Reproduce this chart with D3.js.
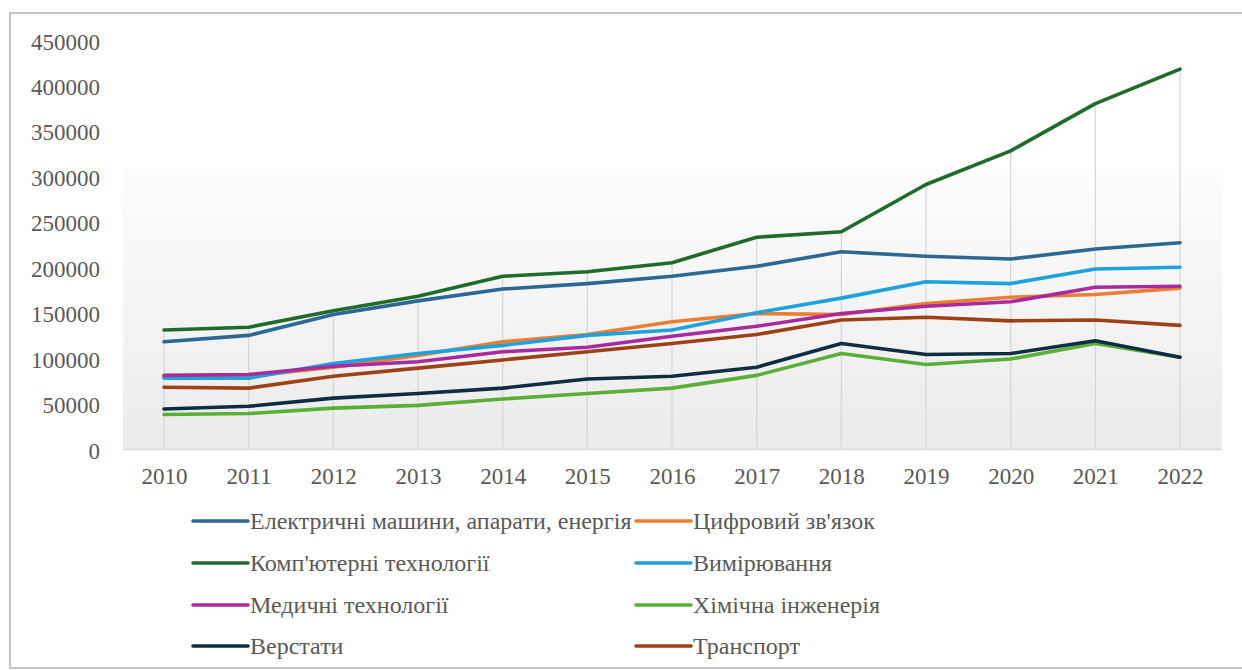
<!DOCTYPE html>
<html>
<head>
<meta charset="utf-8">
<script src="https://cdn.jsdelivr.net/npm/d3@7"></script>
<style>
  html, body { margin: 0; padding: 0; background: #ffffff; }
  svg { display: block; }
  .lbl { font-family: "Times New Roman", Tinos, "Liberation Serif", serif; }
</style>
</head>
<body>
<svg id="chart" width="1242" height="670"></svg>
<script>
// Categories (years)
const years = ["2010","2011","2012","2013","2014","2015","2016","2017","2018","2019","2020","2021","2022"];

// Y axis tick labels
const yTicks = [0, 50000, 100000, 150000, 200000, 250000, 300000, 350000, 400000, 450000];

// Series names
const seriesNames = [
  "Електричні машини, апарати, енергія",
  "Цифровий зв'язок",
  "Комп'ютерні технології",
  "Вимірювання",
  "Медичні технології",
  "Хімічна інженерія",
  "Верстати",
  "Транспорт"
];

// Series values, one array per technology field
const electric    = [118000, 125000, 148000, 163000, 176000, 182000, 190000, 201000, 217000, 212000, 209000, 220000, 227000];
const digital     = [79000, 80000, 90000, 103000, 118000, 126000, 140000, 149000, 148000, 160000, 167000, 170000, 177000];
const computer    = [131000, 134000, 152000, 168000, 190000, 195000, 205000, 233000, 239000, 291000, 328000, 380000, 418000];
const measurement = [78000, 78000, 94000, 105000, 114000, 125000, 131000, 150000, 166000, 184000, 182000, 198000, 200000];
const medical     = [81000, 82000, 91000, 96000, 107000, 112000, 124000, 135000, 149000, 157000, 162000, 178000, 179000];
const chemical    = [38000, 39000, 45000, 48000, 55000, 61000, 67000, 81000, 105000, 93000, 99000, 116000, 101000];
const machine     = [44000, 47000, 56000, 61000, 67000, 77000, 80000, 90000, 116000, 104000, 105000, 119000, 101000];
const transport   = [68000, 67000, 80000, 89000, 98000, 107000, 116000, 126000, 142000, 145000, 141000, 142000, 136000];

const seriesValues = [electric, digital, computer, measurement, medical, chemical, machine, transport];
const seriesColors = ["#2c6893", "#ed7d31", "#1e6b2b", "#1fa2dc", "#a82a9c", "#5aaf38", "#0e2d42", "#9d4217"];

const series = seriesNames.map((name, i) => ({
  name,
  color: seriesColors[i],
  values: seriesValues[i]
}));

const TEXT_COLOR = "#595959";

const svg = d3.select("#chart");

// Outer chart frame (left, top and bottom edges)
svg.append("path")
  .attr("d", "M1250,13 H10 V668 H1250")
  .attr("fill", "none")
  .attr("stroke", "#c4c4c4")
  .attr("stroke-width", 2);

const plot = { left: 123, right: 1222, top: 40, bottom: 449 };

const x = d3.scalePoint()
  .domain(years)
  .range([164, 1180]);

const y = d3.scaleLinear()
  .domain([0, 450000])
  .range([plot.bottom, plot.top]);

// Plot-area fill: soft vertical gradient
const defs = svg.append("defs");
const grad = defs.append("linearGradient")
  .attr("id", "plotFill")
  .attr("x1", 0).attr("y1", 0).attr("x2", 0).attr("y2", 1);
grad.append("stop").attr("offset", "0%").attr("stop-color", "#fdfdfd");
grad.append("stop").attr("offset", "100%").attr("stop-color", "#ebebeb");

svg.append("rect")
  .attr("x", plot.left)
  .attr("y", 168)
  .attr("width", plot.right - plot.left)
  .attr("height", plot.bottom - 168)
  .attr("fill", "url(#plotFill)");

// Bottom edge of the plot area
svg.append("line")
  .attr("x1", plot.left).attr("x2", plot.right)
  .attr("y1", plot.bottom + 0.5).attr("y2", plot.bottom + 0.5)
  .attr("stroke", "#dcdcdc")
  .attr("stroke-width", 1.5);

// Drop lines from the highest point of each year down to the axis
svg.append("g")
  .selectAll("line")
  .data(years)
  .join("line")
  .attr("x1", d => x(d)).attr("x2", d => x(d))
  .attr("y1", (d, i) => y(d3.max(seriesValues, s => s[i])))
  .attr("y2", plot.bottom)
  .attr("stroke", "#d6d6d6")
  .attr("stroke-width", 1.2);

// Y axis labels
const yAxis = d3.axisLeft(y)
  .tickValues(yTicks)
  .tickFormat(d3.format("d"))
  .tickSize(0)
  .tickPadding(0);

const yG = svg.append("g")
  .attr("transform", "translate(100,1)")
  .call(yAxis)
  .attr("font-family", "serif")
  .attr("font-size", 23);
yG.select(".domain").remove();
yG.selectAll("text")
  .attr("class", "lbl")
  .attr("font-size", 23)
  .attr("fill", TEXT_COLOR)
  .attr("dy", "0.35em");

// X axis labels
const xAxis = d3.axisBottom(x)
  .tickSize(0)
  .tickPadding(0);

const xG = svg.append("g")
  .attr("transform", "translate(0,467)")
  .call(xAxis)
  .attr("font-family", "serif")
  .attr("font-size", 23);
xG.select(".domain").remove();
xG.selectAll("text")
  .attr("class", "lbl")
  .attr("font-size", 23)
  .attr("fill", TEXT_COLOR)
  .attr("dy", "0.75em");

// Series lines
const line = d3.line()
  .x((d, i) => x(years[i]))
  .y(d => y(d));

svg.append("g")
  .selectAll("path")
  .data(series)
  .join("path")
  .attr("d", d => line(d.values))
  .attr("fill", "none")
  .attr("stroke", d => d.color)
  .attr("stroke-width", 3.6)
  .attr("stroke-linejoin", "round")
  .attr("stroke-linecap", "round");

// Legend: two columns, four rows
const legendCols = [193, 636];
const legendRows = [521, 563, 605, 646];

const legend = svg.append("g")
  .attr("font-family", "serif")
  .selectAll("g")
  .data(series)
  .join("g")
  .attr("transform", (d, i) => `translate(${legendCols[i % 2]},${legendRows[Math.floor(i / 2)]})`);

legend.append("line")
  .attr("x1", 0).attr("x2", 55)
  .attr("y1", 0).attr("y2", 0)
  .attr("stroke", d => d.color)
  .attr("stroke-width", 3.6)
  .attr("stroke-linecap", "round");

legend.append("text")
  .attr("class", "lbl")
  .attr("x", 57)
  .attr("y", 0)
  .attr("dy", "0.35em")
  .attr("font-size", 24)
  .attr("fill", TEXT_COLOR)
  .text(d => d.name);
</script>
</body>
</html>
